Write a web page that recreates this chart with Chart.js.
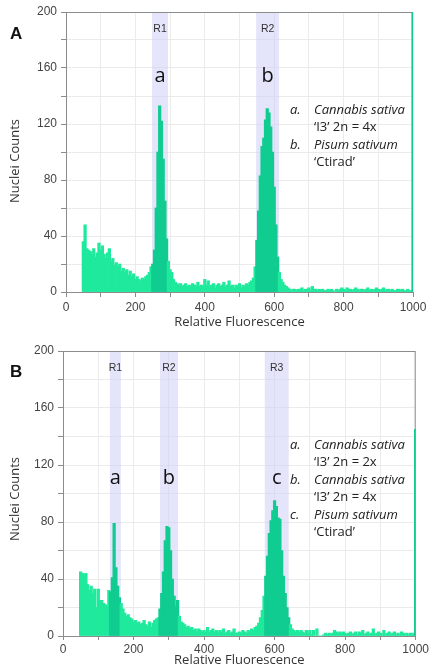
<!DOCTYPE html>
<html>
<head>
<meta charset="utf-8">
<script src="https://cdn.jsdelivr.net/npm/chart.js@4.4.1/dist/chart.umd.min.js"></script>
<style>
  body { margin: 0; background: #fff; }
  .panel { position: absolute; left: 0; width: 431px; }
</style>
</head>
<body>
<div class="panel" style="top:0;height:335px"><canvas id="chartA" width="431" height="335"></canvas></div>
<div class="panel" style="top:335px;height:336px"><canvas id="chartB" width="431" height="336"></canvas></div>
<script>
// kanaler: 50, 55, ... 1000 (sista kanalen = overflow vid 1000)
const binStart = 50;
const binStep = 5;

// Panel A - nuclei counts per kanal
const countsA = [
  36, 48, 31, 30, 29, 27, 31, 25, 28, 35,
  30, 33, 27, 24, 28, 31, 22, 24, 19, 21,
  18, 20, 15, 17, 14, 16, 12, 15, 11, 13,
  9, 11, 9, 8, 10, 9, 11, 12, 14, 18,
  20, 30, 60, 100, 133, 122, 95, 65, 38, 22,
  16, 14, 9, 7, 6, 5, 6, 4, 5, 6,
  4, 5, 4, 6, 5, 4, 7, 4, 5, 4,
  9, 5, 8, 4, 5, 6, 3, 5, 6, 4,
  5, 7, 4, 5, 8, 4, 5, 3, 5, 4,
  6, 3, 5, 4, 6, 5, 7, 8, 10, 18,
  37, 58, 83, 104, 110, 123, 131, 128, 118, 100,
  75, 48, 25, 14, 9, 7, 5, 4, 3, 2,
  1, 2, 2, 1, 2, 2, 3, 1, 2, 2,
  3, 1, 4, 2, 2, 1, 2, 1, 2, 1,
  1, 2, 1, 2, 1, 0, 2, 1, 2, 3,
  2, 1, 3, 2, 2, 1, 2, 3, 2, 1,
  2, 2, 1, 2, 3, 1, 2, 1, 2, 3,
  2, 1, 2, 3, 1, 2, 2, 1, 2, 1,
  1, 2, 2, 1, 2, 1, 1, 2, 1, 1,
  200
];

// Panel B
const countsB = [
  45, 44, 43, 44, 36, 32, 35, 30, 33, 20,
  33, 25, 25, 23, 22, 21, 32, 31, 41, 79,
  48, 35, 27, 23, 19, 16, 14, 15, 13, 12,
  10, 11, 9, 10, 8, 9, 11, 8, 7, 10,
  6, 9, 11, 12, 13, 19, 30, 45, 67, 77,
  76, 60, 40, 28, 21, 25, 14, 10, 9, 8,
  6, 7, 5, 6, 4, 5, 3, 5, 4, 3,
  4, 3, 6, 3, 4, 5, 3, 4, 2, 4,
  3, 5, 2, 3, 4, 2, 3, 5, 2, 2,
  3, 2, 4, 3, 2, 4, 3, 5, 4, 6,
  7, 9, 13, 18, 28, 42, 56, 72, 81, 88,
  95, 91, 83, 82, 60, 42, 30, 20, 13, 8,
  5, 4, 3, 4, 3, 4, 3, 2, 4, 2,
  4, 1, 4, 0, 5, 0, 0, 0, 1, 2,
  1, 2, 1, 2, 4, 3, 2, 3, 2, 3,
  2, 1, 2, 3, 1, 2, 3, 1, 3, 2,
  4, 1, 2, 3, 1, 2, 5, 1, 2, 3,
  2, 1, 4, 1, 2, 3, 1, 2, 3, 1,
  2, 1, 3, 2, 1, 2, 1, 2, 1, 2,
  145
];

// gates (regioner) och etiketter
const regionsA = [[248, 294], [548, 614]];
const regionNamesA = ['R1', 'R2'];
const peakLettersA = ['a', 'b'];
const legendA = [
  ['a.', 'Cannabis sativa', true],
  ['', '\u2018I3\u2019 2n = 4x', false],
  ['b.', 'Pisum sativum', true],
  ['', '\u2018Ctirad\u2019', false]
];

const regionsB = [[133, 164], [275, 326], [572, 640]];
const regionNamesB = ['R1', 'R2', 'R3'];
const peakLettersB = ['a', 'b', 'c'];
const legendB = [
  ['a.', 'Cannabis sativa', true],
  ['', '\u2018I3\u2019 2n = 2x', false],
  ['b.', 'Cannabis sativa', true],
  ['', '\u2018I3\u2019 2n = 4x', false],
  ['c.', 'Pisum sativum', true],
  ['', '\u2018Ctirad\u2019', false]
];

const xTitle = 'Relative Fluorescence';
const yTitle = 'Nuclei Counts';

const barColor = '#1fe99c';
const barColorGate = '#10cc90';
const axisColor = '#8c8c8c';
const gridColor = '#ebebeb';

// plugin som ritar gates, ram, etiketter och förklaringstext
const panelPlugin = {
  id: 'panel',
  beforeDatasetsDraw(chart) {
    const o = chart.options.plugins.panel;
    const { ctx, chartArea: a, scales: { x } } = chart;
    ctx.save();
    o.regions.forEach(r => {
      const x0 = x.getPixelForValue(r[0]);
      const x1 = x.getPixelForValue(r[1]);
      ctx.fillStyle = 'rgba(205, 205, 246, 0.55)';
      ctx.fillRect(x0, a.top, x1 - x0, a.bottom - a.top);
    });
    // ram runt diagrammet
    ctx.strokeStyle = axisColor;
    ctx.lineWidth = 1;
    ctx.strokeRect(a.left + 0.5, a.top + 0.5, a.right - a.left - 1, a.bottom - a.top);
    ctx.restore();
  },
  afterDatasetsDraw(chart) {
    const o = chart.options.plugins.panel;
    const { ctx, scales: { x, y } } = chart;
    ctx.save();
    ctx.textAlign = 'center';
    ctx.textBaseline = 'middle';
    o.regions.forEach((r, i) => {
      const cx = x.getPixelForValue((r[0] + r[1]) / 2);
      ctx.fillStyle = '#333';
      ctx.font = '10.5px "Liberation Sans", Arial, sans-serif';
      ctx.fillText(o.names[i], cx, y.getPixelForValue(o.nameY));
      ctx.fillStyle = '#111';
      ctx.font = '20px "Open Sans", sans-serif';
      ctx.fillText(o.letters[i], cx, y.getPixelForValue(o.letterY));
    });
    // y-axelns titel
    ctx.save();
    ctx.translate(15, o.yTitleY);
    ctx.rotate(-Math.PI / 2);
    ctx.fillStyle = '#333';
    ctx.font = '13px "Open Sans", sans-serif';
    ctx.fillText(yTitle, 0, 0);
    ctx.restore();
    // förklaring
    ctx.textAlign = 'left';
    ctx.fillStyle = '#222';
    o.legend.forEach((row, i) => {
      const ly = o.legendTop + i * 17.5;
      ctx.font = 'italic 13px "Open Sans", sans-serif';
      if (row[0]) ctx.fillText(row[0], o.legendX, ly);
      ctx.font = (row[2] ? 'italic ' : '') + '13px "Open Sans", sans-serif';
      ctx.fillText(row[1], o.legendX + 24, ly);
    });
    // panelbokstav
    ctx.font = 'bold 17px "Liberation Sans", Arial, sans-serif';
    ctx.textBaseline = 'alphabetic';
    ctx.fillStyle = '#111';
    ctx.fillText(o.panel, 10, o.panelY);
    ctx.restore();
  }
};

function makeChart(id, counts, regions, names, letters, legend, panel, g) {
  const points = counts.map((c, i) => ({ x: binStart + i * binStep, y: c }));
  const colors = points.map(p =>
    p.x >= 1000 || regions.some(r => p.x >= r[0] && p.x <= r[1]) ? barColorGate : barColor);

  return new Chart(document.getElementById(id), {
    type: 'bar',
    data: {
      datasets: [{
        data: points,
        backgroundColor: colors,
        borderWidth: 0,
        barThickness: 2.6  // lite bredare än en kanal så att staplarna går ihop
      }]
    },
    options: {
      responsive: false,
      animation: false,
      devicePixelRatio: 1,
      layout: { padding: { top: g.padTop, right: g.padRight, left: 0, bottom: 0 } },
      plugins: {
        legend: { display: false },
        tooltip: { enabled: false },
        panel: {
          regions: regions, names: names, letters: letters, legend: legend, panel: panel,
          nameY: 188, letterY: g.letterY, legendTop: g.legendTop, legendX: 290,
          panelY: g.panelY, yTitleY: g.yTitleY
        }
      },
      scales: {
        x: {
          type: 'linear',
          min: 0,
          max: 1000,
          offset: false,
          afterFit: s => { s.height = g.xHeight; },
          border: { color: axisColor },
          grid: { color: gridColor, tickColor: axisColor, tickLength: g.xTickLen, offset: false },
          ticks: {
            stepSize: 100,
            maxRotation: 0,
            padding: g.xTickPad,
            color: '#444',
            font: { family: '"Liberation Sans", Arial, sans-serif', size: 12 },
            callback: v => (v % 200 === 0 ? v : '')
          },
          title: {
            display: true,
            text: xTitle,
            color: '#333',
            padding: { top: 0, bottom: g.xTitlePad },
            font: { family: '"Open Sans", sans-serif', size: 13 }
          }
        },
        y: {
          min: 0,
          max: 200,
          afterFit: s => { s.width = g.yWidth; },
          border: { color: axisColor },
          grid: { color: gridColor, tickColor: axisColor, tickLength: 5 },
          ticks: {
            stepSize: 20,
            padding: 4,
            color: '#444',
            font: { family: '"Liberation Sans", Arial, sans-serif', size: 12 },
            callback: v => (v % 40 === 0 ? v : '')
          },
          title: { display: false }
        }
      }
    },
    plugins: [panelPlugin]
  });
}

makeChart('chartA', countsA, regionsA, regionNamesA, peakLettersA, legendA, 'A', {
  padTop: 12, padRight: 18, yWidth: 66, xHeight: 43, xTickLen: 5, xTickPad: 3, xTitlePad: 5,
  letterY: 154, legendTop: 110, panelY: 39, yTitleY: 161
});
makeChart('chartB', countsB, regionsB, regionNamesB, peakLettersB, legendB, 'B', {
  padTop: 16, padRight: 15, yWidth: 63, xHeight: 35, xTickLen: 4, xTickPad: 2, xTitlePad: 3,
  letterY: 111, legendTop: 110, panelY: 42, yTitleY: 164
});
</script>
</body>
</html>
